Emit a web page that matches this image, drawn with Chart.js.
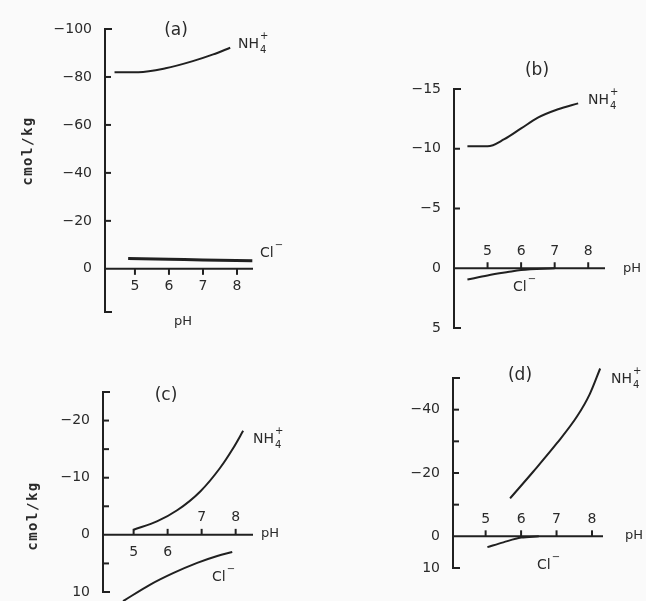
<!DOCTYPE html>
<html>
<head>
<meta charset="utf-8">
<script src="https://cdn.jsdelivr.net/npm/chart.js@4.4.1/dist/chart.umd.min.js"></script>
<style>
html, body { margin: 0; padding: 0; background: #fafafa; }
#wrap { position: relative; width: 646px; height: 601px; overflow: hidden; }
canvas { position: absolute; left: 0; top: 0; }
</style>
</head>
<body>
<div id="wrap">
  <canvas id="pa" width="646" height="601"></canvas>
  <canvas id="pb" width="646" height="601"></canvas>
  <canvas id="pc" width="646" height="601"></canvas>
  <canvas id="pd" width="646" height="601"></canvas>
</div>
<script>
// panel (a)
const phA_nh = [4.4, 5.1, 5.9, 6.7, 7.3, 7.8];
const nhA    = [-82.0, -82.0, -83.6, -86.6, -89.4, -92.2];
const phA_cl = [4.8, 6.0, 7.0, 8.45];
const clA    = [-4.3, -4.0, -3.7, -3.4];

// panel (b)
const phB_nh = [4.4, 5.0, 5.5, 6.0, 6.5, 7.1, 7.7];
const nhB    = [-10.2, -10.2, -10.8, -11.7, -12.6, -13.3, -13.8];
const phB_cl = [4.4, 5.0, 5.6, 6.0, 7.0];
const clB    = [0.95, 0.6, 0.32, 0.15, 0];

// panel (c)
const phC_nh = [5.0, 5.7, 6.28, 6.96, 7.54, 7.93, 8.22];
const nhC    = [-0.9, -2.4, -4.3, -7.6, -11.7, -15.2, -18.2];
const phC_cl = [4.69, 5.49, 6.16, 6.87, 7.46, 7.9];
const clC    = [11.6, 8.7, 6.7, 4.9, 3.7, 3.0];

// panel (d)
const phD_nh = [5.69, 6.34, 7.01, 7.58, 7.94, 8.23];
const nhD    = [-12.0, -20.4, -29.4, -37.9, -45.0, -53.0];
const phD_cl = [5.05, 5.5, 6.0, 6.5];
const clD    = [3.4, 1.9, 0.4, 0];

// tick labels
const phTicks = [5, 6, 7, 8];
const yLabA = [-100, -80, -60, -40, -20, 0];
const yLabB = [-15, -10, -5, 0, 5];
const yLabC = [-20, -10, 0, 10];
const yLabD = [-40, -20, 0, 10];

const INK = '#202020';
const TXT = '#2a2a2a';
const W = 646, H = 601;

function pts(xs, ys) {
  return xs.map((x, i) => ({ x: x, y: ys[i] }));
}

function fmt(v) {
  return v < 0 ? '\u2212' + Math.abs(v) : String(v);
}

function ion(ctx, x, y, base, sub, sup) {
  ctx.font = '14px "DejaVu Sans"';
  ctx.textAlign = 'left';
  ctx.textBaseline = 'middle';
  ctx.fillText(base, x, y);
  const w = ctx.measureText(base).width + 1;
  ctx.font = '10px "DejaVu Sans"';
  if (sup) ctx.fillText(sup, x + w, y - 8);
  if (sub) ctx.fillText(sub, x + w, y + 6);
}

const sketchAxes = {
  id: 'sketchAxes',
  afterDatasetsDraw(chart, args, o) {
    const ctx = chart.ctx;
    const xs = chart.scales.x, ys = chart.scales.y;
    const x0 = xs.left, x1 = xs.right;
    const top = ys.top, bot = ys.bottom;
    const y0 = ys.getPixelForValue(0);
    const seg = (a, b, c, d) => { ctx.beginPath(); ctx.moveTo(a, b); ctx.lineTo(c, d); ctx.stroke(); };

    ctx.save();
    ctx.strokeStyle = INK;
    ctx.lineWidth = 2;
    // left axis with small feet at both ends
    seg(x0, top, x0, bot);
    seg(x0 - 1, top, x0 + 7, top);
    seg(x0 - 1, bot, x0 + 7, bot);
    o.yMarks.forEach(v => {
      const p = ys.getPixelForValue(v);
      seg(x0, p, x0 + 6, p);
    });
    // pH axis along zero
    seg(x0, y0, x1, y0);
    o.xMarks.forEach(t => {
      const p = xs.getPixelForValue(t.v);
      seg(p, y0, p, y0 + (t.up ? -6 : 6));
    });

    ctx.fillStyle = TXT;
    ctx.font = '14px "DejaVu Sans"';
    ctx.textAlign = 'right';
    ctx.textBaseline = 'middle';
    o.yLabels.forEach(v => ctx.fillText(fmt(v), x0 - 13, ys.getPixelForValue(v)));
    ctx.textAlign = 'center';
    o.xMarks.forEach(t => {
      ctx.fillText(String(t.v), xs.getPixelForValue(t.v), y0 + (t.labUp ? -17 : 18));
    });

    // panel letter
    ctx.font = '17px "DejaVu Sans"';
    ctx.fillText(o.title[0], o.title[1], o.title[2]);

    // pH caption
    ctx.font = '13px "DejaVu Sans"';
    ctx.textAlign = o.ph[3] || 'left';
    ctx.fillText('pH', o.ph[1], o.ph[2]);

    ion(ctx, o.nh[0], o.nh[1], 'NH', '4', '+');
    ion(ctx, o.cl[0], o.cl[1], 'Cl', null, '\u2212');

    if (o.unit) {
      ctx.save();
      ctx.translate(o.unit[0], o.unit[1]);
      ctx.rotate(-Math.PI / 2);
      ctx.font = 'bold 14px "DejaVu Sans Mono"';
      ctx.letterSpacing = '1.5px';
      ctx.textAlign = 'center';
      ctx.textBaseline = 'middle';
      ctx.fillText('cmol/kg', 0, 0);
      ctx.restore();
    }
    ctx.restore();
  }
};

function series(xs, ys, width) {
  return {
    data: pts(xs, ys),
    borderColor: INK,
    borderWidth: width || 2,
    pointRadius: 0,
    fill: false,
    clip: false,
    cubicInterpolationMode: 'monotone'
  };
}

function makePanel(id, box, xr, yr, datasets, deco) {
  return new Chart(document.getElementById(id).getContext('2d'), {
    type: 'line',
    data: { datasets: datasets },
    options: {
      responsive: false,
      animation: false,
      layout: { padding: { left: box[0], top: box[1], right: W - box[2], bottom: H - box[3] } },
      scales: {
        x: { type: 'linear', min: xr[0], max: xr[1], display: false },
        y: { type: 'linear', min: yr[0], max: yr[1], reverse: true, display: false }
      },
      plugins: { legend: { display: false }, tooltip: { enabled: false }, sketchAxes: deco }
    },
    plugins: [sketchAxes]
  });
}

makePanel('pa', [105, 29, 253, 312], [4.12, 8.47], [-100, 18],
  [series(phA_nh, nhA), series(phA_cl, clA, 3)],
  {
    yLabels: yLabA, yMarks: [-80, -60, -40, -20],
    xMarks: phTicks.map(v => ({ v: v, up: false, labUp: false })),
    title: ['(a)', 176, 31], ph: ['pH', 183, 322, 'center'],
    nh: [238, 44], cl: [260, 253], unit: [28, 151]
  });

makePanel('pb', [454, 89, 605, 328], [4.0, 8.5], [-15, 5],
  [series(phB_nh, nhB), series(phB_cl, clB)],
  {
    yLabels: yLabB, yMarks: [-10, -5],
    xMarks: phTicks.map(v => ({ v: v, up: true, labUp: true })),
    title: ['(b)', 537, 71], ph: ['pH', 623, 269],
    nh: [588, 100], cl: [513, 287]
  });

makePanel('pc', [103, 392, 253, 592], [4.1, 8.51], [-25, 10],
  [series(phC_nh, nhC), series(phC_cl, clC)],
  {
    yLabels: yLabC, yMarks: [-20, -15, -10, -5, 5],
    xMarks: phTicks.map(v => ({ v: v, up: true, labUp: v > 6 })),
    title: ['(c)', 166, 396], ph: ['pH', 261, 534],
    nh: [253, 439], cl: [212, 577], unit: [33, 516]
  });

makePanel('pd', [453, 378, 603, 568], [4.08, 8.31], [-50, 10],
  [series(phD_nh, nhD), series(phD_cl, clD)],
  {
    yLabels: yLabD, yMarks: [-40, -30, -20, -10],
    xMarks: phTicks.map(v => ({ v: v, up: true, labUp: true })),
    title: ['(d)', 520, 376], ph: ['pH', 625, 536],
    nh: [611, 379], cl: [537, 565]
  });
</script>
</body>
</html>
